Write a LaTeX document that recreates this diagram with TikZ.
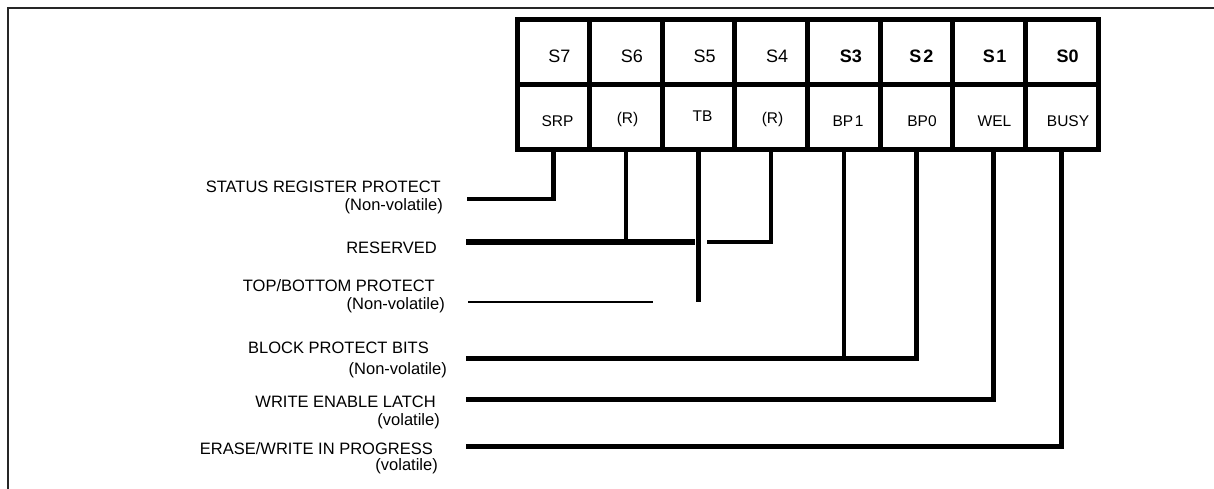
\documentclass[tikz,border=0pt]{standalone}
\usepackage{fontspec}
\setmainfont{Liberation Sans}
\begin{document}
\begin{tikzpicture}[x=1pt,y=-1pt,
  cell/.style={draw,line width=5pt,minimum width=72.625pt,minimum height=65pt,inner sep=0pt,outer sep=0pt},
  hdr/.style={anchor=base,inner sep=0pt,font=\fontsize{18}{20}\selectfont},
  hdrb/.style={anchor=base,inner sep=0pt,font=\fontsize{18}{20}\selectfont\bfseries},
  bit/.style={anchor=base,inner sep=0pt,font=\fontsize{15.5}{18}\selectfont},
  lbl/.style={anchor=base east,inner sep=0pt,font=\fontsize{16.5}{19}\selectfont},
  lead/.style={line width=4.5pt,line cap=rect},
  bus/.style={line width=5.5pt,line cap=rect},
  thinlead/.style={line width=2.7pt},
  frame/.style={line width=2pt,black!85}]
\useasboundingbox (0,0) rectangle (1214,489);

% outer frame (top and left edges)
\draw[frame] (7.5,495) -- (7.5,8) -- (1220,8);

% register cells: bit numbers (top row) and bit names (bottom row)
\node[cell] (t7) at (553.31,52.5) {};
\node[cell] (t6) at (625.94,52.5) {};
\node[cell] (t5) at (698.56,52.5) {};
\node[cell] (t4) at (771.19,52.5) {};
\node[cell] (t3) at (843.81,52.5) {};
\node[cell] (t2) at (916.44,52.5) {};
\node[cell] (t1) at (989.06,52.5) {};
\node[cell] (t0) at (1061.69,52.5) {};

\node[cell] (srp)  at (553.31,117.5) {};
\node[cell] (r6)   at (625.94,117.5) {};
\node[cell] (tb)   at (698.56,117.5) {};
\node[cell] (r4)   at (771.19,117.5) {};
\node[cell] (bp1)  at (843.81,117.5) {};
\node[cell] (bp0)  at (916.44,117.5) {};
\node[cell] (wel)  at (989.06,117.5) {};
\node[cell] (busy) at (1061.69,117.5) {};

\node[hdr]  (s7) at (559.3,63) {S7};
\node[hdr]  (s6) at (631.9,63) {S6};
\node[hdr]  (s5) at (704.6,63) {S5};
\node[hdr]  (s4) at (777.2,63) {S4};
\node[hdrb] (s3) at (850.8,63) {S3};
\node[hdrb] (s2) at (921.4,63) {S\kern2pt 2};
\node[hdrb] (s1) at (994.6,63) {S\kern1.5pt 1};
\node[hdrb] (s0) at (1067.7,63) {S0};

\node[bit] (nsrp)  at (557.5,127) {SRP};
\node[bit] (nr6)   at (627.5,124) {(R)};
\node[bit] (ntb)   at (702.5,122) {TB};
\node[bit] (nr4)   at (772.5,124) {(R)};
\node[bit] (nbp1)  at (848,127) {BP\kern1.5pt 1};
\node[bit] (nbp0)  at (922,127) {BP0};
\node[bit] (nwel)  at (994.5,127) {WEL};
\node[bit] (nbusy) at (1068,127) {BUSY};

% field descriptions
\node[lbl] (lsrp)   at (441,193) {STATUS REGISTER PROTECT};
\node[lbl] (lsrpv)  at (443,210) {(Non-volatile)};
\node[lbl] (lres)   at (437,253) {RESERVED};
\node[lbl] (ltb)    at (435,291) {TOP/BOTTOM PROTECT};
\node[lbl] (ltbv)   at (445,309) {(Non-volatile)};
\node[lbl] (lbp)    at (429,353) {BLOCK PROTECT BITS};
\node[lbl] (lbpv)   at (447,374) {(Non-volatile)};
\node[lbl] (lwel)   at (436,407) {WRITE ENABLE LATCH};
\node[lbl] (lwelv)  at (440,425) {(volatile)};
\node[lbl] (lbusy)  at (433,454) {ERASE/WRITE IN PROGRESS};
\node[lbl] (lbusyv) at (438,470) {(volatile)};

% leader lines from the bits to their descriptions
\coordinate (srpL) at (469.25,199);
\draw[lead] (srp.south) |- (srpL);

\coordinate (resL) at (469,242);
\coordinate (resM) at (692.5,242);
\coordinate (resR) at (709.25,242);
\draw[bus] (resL) -- (resM);
\draw[lead] (r6.south) -- (r6.south |- resL);
\draw[lead] (r4.south) |- (resR);

\coordinate (tbEnd) at (699,300);
\coordinate (tbL) at (468,302);
\coordinate (tbR) at (653,302);
\draw[lead] (tb.south) -- (tb.south |- tbEnd);
\draw[thinlead] (tbL) -- (tbR);

\coordinate (bpL) at (469,358.5);
\draw[lead] (bp1.south) -- (bp1.south |- bpL);
\draw[lead] (bp0.south) -- (bp0.south |- bpL);
\draw[bus] (bpL) -- (bp0.south |- bpL);

\coordinate (welTap) at ([xshift=4.5pt]wel.south);
\coordinate (welL) at (469,399.5);
\draw[lead] (welTap) -- (welTap |- welL);
\draw[bus] (welL) -- (welTap |- welL);

\coordinate (busyL) at (469,446.5);
\draw[lead] (busy.south) -- (busy.south |- busyL);
\draw[bus] (busyL) -- (busy.south |- busyL);
\end{tikzpicture}
\end{document}
